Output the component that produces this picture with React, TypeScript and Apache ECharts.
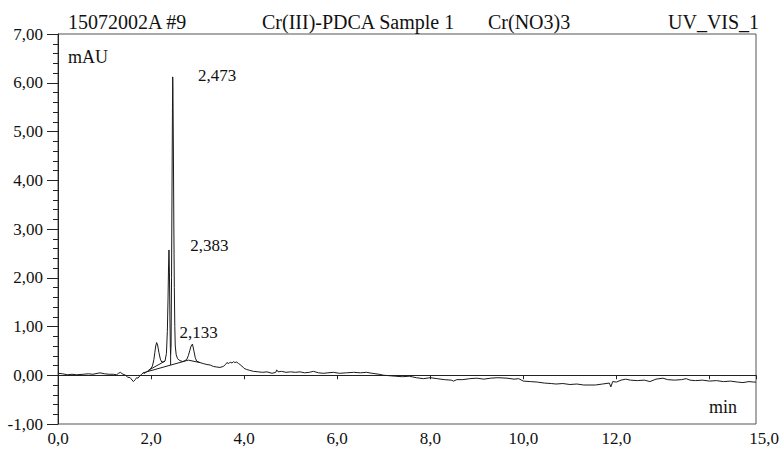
import React, { useEffect, useRef } from "react";
import * as echarts from "echarts";

// Retention time (min) and absorbance (mAU)
const times = [
  0.0, 0.1, 0.2, 0.3, 0.4, 0.54, 0.65, 0.75, 0.9, 1.0, 1.1, 1.19, 1.26, 1.3, 1.34, 1.38, 1.45, 1.5, 1.55, 1.62,
  1.66, 1.69, 1.72, 1.76, 1.8, 1.83, 1.87, 1.9, 1.94, 1.98, 2.03, 2.06, 2.08, 2.1, 2.12, 2.14, 2.17, 2.2, 2.23, 2.27,
  2.3, 2.33, 2.35, 2.365, 2.375, 2.385, 2.395, 2.405, 2.415, 2.42, 2.43, 2.44, 2.45, 2.46, 2.465, 2.47, 2.48, 2.49, 2.5, 2.51,
  2.52, 2.54, 2.57, 2.62, 2.68, 2.73, 2.77, 2.8, 2.83, 2.86, 2.89, 2.92, 2.95, 2.98, 3.05, 3.12, 3.2, 3.27, 3.34, 3.4,
  3.48, 3.55, 3.6, 3.63, 3.67, 3.7, 3.74, 3.77, 3.8, 3.84, 3.88, 3.91, 3.95, 4.0, 4.05, 4.12, 4.2, 4.3, 4.4, 4.49,
  4.6, 4.68, 4.7, 4.73, 4.8, 4.9, 5.0, 5.1, 5.2, 5.3, 5.4, 5.49, 5.6, 5.7, 5.8, 5.92, 6.05, 6.2, 6.35, 6.5,
  6.63, 6.75, 6.9, 7.0, 7.13, 7.25, 7.4, 7.55, 7.7, 7.85, 8.0, 8.15, 8.3, 8.45, 8.5, 8.57, 8.7, 8.85, 9.0, 9.15,
  9.3, 9.45, 9.65, 9.8, 9.9, 10.0, 10.15, 10.3, 10.45, 10.6, 10.7, 10.85, 11.0, 11.15, 11.3, 11.43, 11.55, 11.7, 11.85, 11.88,
  11.92, 12.0, 12.1, 12.2, 12.3, 12.45, 12.6, 12.72, 12.85, 13.0, 13.1, 13.25, 13.4, 13.5, 13.58, 13.7, 13.85, 14.0, 14.15, 14.3,
  14.45, 14.6, 14.72, 14.85, 14.95, 15.0,
];
const absorbance = [
  0.04, 0.03, 0.01, 0.02, 0.01, 0.02, 0.03, 0.02, 0.05, 0.03, 0.02, 0.02, 0.01, 0.04, 0.06, 0.03, 0.0, -0.04, -0.05, -0.13,
  -0.09, -0.05, -0.06, -0.01, 0.02, 0.05, 0.04, 0.07, 0.09, 0.12, 0.19, 0.32, 0.46, 0.6, 0.67, 0.62, 0.46, 0.33, 0.27, 0.28,
  0.29, 0.45, 0.9, 1.6, 2.2, 2.57, 2.1, 1.2, 0.55, 0.42, 0.6, 2.0, 3.8, 5.5, 6.12, 5.9, 4.6, 3.0, 1.8, 1.0,
  0.6, 0.42, 0.34, 0.3, 0.28, 0.3, 0.33, 0.4, 0.5, 0.6, 0.64, 0.5, 0.36, 0.29, 0.26, 0.24, 0.22, 0.21, 0.18, 0.17,
  0.16, 0.18, 0.22, 0.26, 0.24, 0.27, 0.25, 0.28, 0.26, 0.27, 0.24, 0.22, 0.19, 0.14, 0.12, 0.1, 0.08, 0.07, 0.06, 0.07,
  0.04, 0.06, 0.11, 0.07, 0.08, 0.06, 0.07, 0.06, 0.07, 0.05, 0.06, 0.08, 0.05, 0.04, 0.05, 0.06, 0.04, 0.05, 0.06, 0.05,
  0.06, 0.04, 0.02, 0.0, -0.01, -0.02, -0.03, -0.02, -0.05, -0.07, -0.05, -0.07, -0.09, -0.1, -0.12, -0.09, -0.09, -0.07, -0.06, -0.08,
  -0.06, -0.05, -0.06, -0.08, -0.07, -0.12, -0.13, -0.14, -0.16, -0.17, -0.18, -0.17, -0.19, -0.18, -0.2, -0.2, -0.2, -0.18, -0.16, -0.24,
  -0.13, -0.14, -0.1, -0.08, -0.1, -0.11, -0.1, -0.13, -0.08, -0.06, -0.09, -0.1, -0.09, -0.07, -0.1, -0.11, -0.1, -0.12, -0.11, -0.13,
  -0.12, -0.14, -0.15, -0.13, -0.14, -0.14,
];

// Integration baselines / drop line drawn by the software
const baselineMainTimes = [1.83, 2.8, 3.05];
const baselineMainValues = [0.05, 0.31, 0.26];
const baselineSmallTimes = [1.94, 2.3];
const baselineSmallValues = [0.1, 0.29];
const dropTimes = [2.42, 2.42];
const dropValues = [0.21, 0.42];

// Peak labels (left edge of each label, in data units)
const peakLabels = ["2,473", "2,383", "2,133"];
const peakLabelTimes = [3.0, 2.83, 2.6];
const peakLabelValues = [6.14, 2.67, 0.87];

// Axis ticks
const xLabelValues = [0, 2, 4, 6, 8, 10, 12, 15];
const xTickValues = [0, 2, 4, 6, 8, 10, 12, 14, 15];
const yMin = -1;
const yMax = 7;

// Header texts
const headerSample = "15072002A #9";
const headerMethod = "Cr(III)-PDCA Sample 1";
const headerCompound = "Cr(NO3)3";
const headerChannel = "UV_VIS_1";
const yUnit = "mAU";
const xUnit = "min";

const FONT = "Liberation Serif";

function zip(a: number[], b: number[]) {
  return a.map((v, i) => [v, b[i]]);
}

export default function App() {
  const ref = useRef<HTMLDivElement>(null);
  useEffect(() => {
    document.body.style.margin = "0";
    if (!ref.current) return;
    const chart = echarts.init(ref.current, undefined, { renderer: "svg" });
    const lineStyle = { color: "#1a1a1a", width: 1 };
    const txt = (text: string, left: number, top: number, size: number) => ({
      type: "text",
      left,
      top,
      style: { text, fontFamily: FONT, fontSize: size, fill: "#111" },
    });
    chart.setOption({
      animation: false,
      backgroundColor: "#ffffff",
      textStyle: { fontFamily: FONT },
      grid: {
        left: 58,
        right: 24,
        top: 34,
        bottom: 26,
        show: true,
        borderColor: "#555",
        borderWidth: 1,
        outerBoundsMode: "none",
      },
      xAxis: {
        type: "value",
        min: 0,
        max: 15,
        interval: 2,
        axisLine: { show: true, lineStyle: { color: "#222", width: 1 } },
        axisTick: { show: true, length: 4, customValues: xTickValues, lineStyle: { color: "#222" } },
        splitLine: { show: false },
        axisLabel: {
          customValues: xLabelValues,
          margin: 6,
          color: "#111",
          fontFamily: FONT,
          fontSize: 17,
          formatter: (v: number) =>
            v === 15 ? "{r|" + v.toFixed(1).replace(".", ",") + "}" : v.toFixed(1).replace(".", ","),
          rich: { r: { fontFamily: FONT, fontSize: 17, color: "#111", padding: [0, 0, 0, 16] } },
        },
      },
      yAxis: {
        type: "value",
        min: yMin,
        max: yMax,
        interval: 1,
        axisLine: { show: true, lineStyle: { color: "#222", width: 1 } },
        axisTick: { show: true, length: 11, lineStyle: { color: "#222" } },
        minorTick: { show: true, splitNumber: 5, length: 5, lineStyle: { color: "#222" } },
        splitLine: { show: false },
        axisLabel: {
          margin: 15,
          color: "#111",
          fontFamily: FONT,
          fontSize: 17,
          formatter: (v: number) => v.toFixed(2).replace(".", ","),
        },
      },
      series: [
        {
          type: "line",
          data: zip(times, absorbance),
          symbol: "none",
          smooth: false,
          lineStyle,
          z: 3,
        },
        { type: "line", data: zip(baselineMainTimes, baselineMainValues), symbol: "none", lineStyle, z: 2 },
        { type: "line", data: zip(baselineSmallTimes, baselineSmallValues), symbol: "none", lineStyle, z: 2 },
        { type: "line", data: zip(dropTimes, dropValues), symbol: "none", lineStyle, z: 2 },
        {
          type: "scatter",
          data: peakLabelTimes.map((t, i) => ({ value: [t, peakLabelValues[i]], name: peakLabels[i] })),
          symbol: "circle",
          symbolSize: 1,
          itemStyle: { color: "#ffffff", opacity: 0 },
          label: {
            show: true,
            position: "right",
            distance: 0,
            formatter: (p: any) => p.name,
            fontFamily: FONT,
            fontSize: 17,
            color: "#111",
            opacity: 1,
            textBorderWidth: 0,
          },
          silent: true,
          z: 4,
        },
      ],
      graphic: [
        txt(headerSample, 68, 12, 20),
        txt(headerMethod, 262, 12, 20),
        txt(headerCompound, 488, 12, 20),
        txt(headerChannel, 668, 12, 20),
        txt(yUnit, 68, 48, 18),
        txt(xUnit, 709, 398, 18),
      ],
    });
    return () => chart.dispose();
  }, []);
  return <div ref={ref} style={{ width: 780, height: 450 }} />;
}
